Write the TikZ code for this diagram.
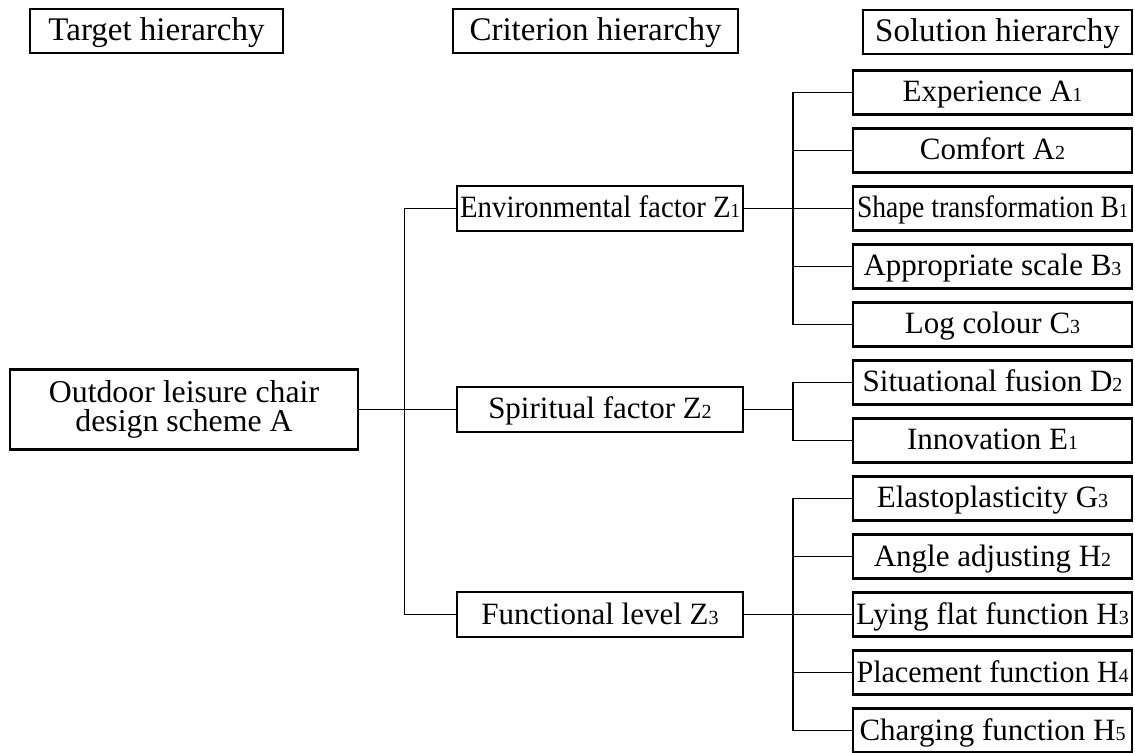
\documentclass[tikz,border=0pt]{standalone}
\usepackage{fontspec}
\setmainfont{Liberation Serif}
\usepackage{graphicx}
\usepackage{tikz}
\usetikzlibrary{calc,positioning}
\newcommand{\idx}[1]{{\fontsize{10pt}{10pt}\selectfont #1}}

\begin{document}
\begin{tikzpicture}[x=0.5pt,y=-0.5pt,node distance=7pt,
    box/.style={draw,line width=1.1pt,outer sep=0pt,inner sep=0pt,minimum height=22pt,
                text height=12pt,text depth=2.5pt,font=\fontsize{15.5pt}{17pt}\selectfont},
    head/.style={box,font=\fontsize{16.5pt}{18pt}\selectfont},
    crit/.style={box,minimum width=143pt,minimum height=22.5pt},
    sol/.style={box,minimum width=139.5pt},
    mainbox/.style={draw,line width=1.1pt,outer sep=0pt,inner sep=0pt,minimum width=174pt,
                minimum height=40pt,align=center,font=\fontsize{15.9pt}{14.5pt}\selectfont},
    link/.style={line width=0.8pt}]
  \useasboundingbox (0,0) rectangle (1135,753);
  % level headings
  \node[head,minimum width=126.5pt] (tgt) at (156.5,31) {Target hierarchy};
  \node[head,minimum width=142.5pt] (crh) at (595.5,31) {Criterion hierarchy};
  \node[head,minimum width=134.5pt] (slh) at (997.5,32) {Solution\ hierarchy};
  % target and criteria
  \node[mainbox] (main) at (184,409.5) {Outdoor leisure chair\\design scheme A};
  \node[crit] (env) at (600,208.5) {\scalebox{0.93}[1]{Environmental factor Z\idx{1}}};
  \node[crit] (spi) at (600,409.5) {Spiritual factor Z\idx{2}};
  \node[crit] (fun) at (600,614.5) {Functional level Z\idx{3}};
  % solutions
  \node[sol] (exp) at (992.5,92.5) {Experience A\idx{1}};
  \node[sol,below=of exp] (cmf) {Comfort A\idx{2}};
  \node[sol,below=of cmf] (shp) {\scalebox{0.89}[1]{Shape transformation B\idx{1}}};
  \node[sol,below=of shp] (app) {Appropriate scale B\idx{3}};
  \node[sol,below=of app] (log) {Log colour C\idx{3}};
  \node[sol,below=of log] (sit) {Situational fusion D\idx{2}};
  \node[sol,below=of sit] (inn) {Innovation E\idx{1}};
  \node[sol,below=of inn] (ela) {Elastoplasticity G\idx{3}};
  \node[sol,below=of ela] (ang) {Angle adjusting H\idx{2}};
  \node[sol,below=of ang] (lyf) {Lying flat function H\idx{3}};
  \node[sol,below=of lyf] (plc) {\scalebox{0.97}[1]{Placement function H\idx{4}}};
  \node[sol,below=of plc] (chg) {Charging function H\idx{5}};
  % joints
  \coordinate (jA) at ($(main.east)!.47!(spi.west)$);
  \coordinate (jB) at ($(env.east)+(25pt,0)$);
  \coordinate (jC) at ($(spi.east)+(25pt,0)$);
  \coordinate (jD) at ($(fun.east)+(25pt,0)$);
  % connectors
  \draw[link] (main.east) -- (spi.west);
  \draw[link] (env.west) -| (jA) |- (fun.west);
  \draw[link] (env.east) -- (jB) -- (shp.west);
  \draw[link] (exp.west) -| (jB) |- (log.west);
  \draw[link] (cmf.west) -- (cmf.west -| jB);
  \draw[link] (app.west) -- (app.west -| jB);
  \draw[link] (spi.east) -- (jC);
  \draw[link] (sit.west) -| (jC) |- (inn.west);
  \draw[link] (fun.east) -- (jD) -- (lyf.west);
  \draw[link] (ela.west) -| (jD) |- (chg.west);
  \draw[link] (ang.west) -- (ang.west -| jD);
  \draw[link] (plc.west) -- (plc.west -| jD);
\end{tikzpicture}
\end{document}
